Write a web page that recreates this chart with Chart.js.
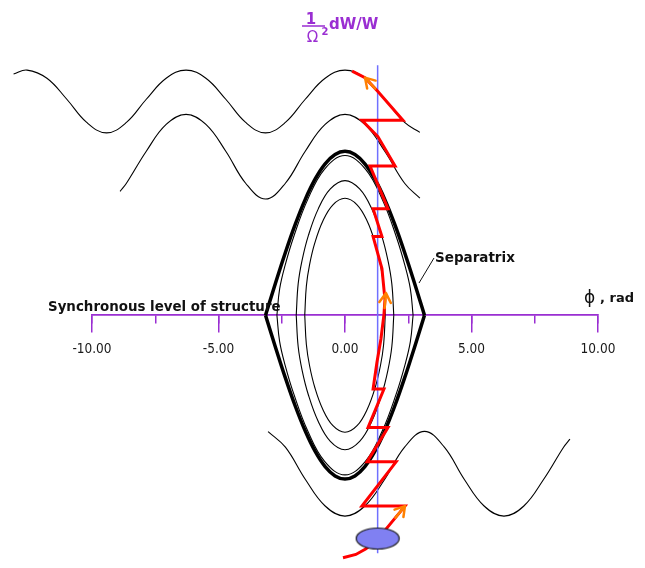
<!DOCTYPE html>
<html>
<head>
<meta charset="utf-8">
<script src="https://cdn.jsdelivr.net/npm/chart.js@4.4.1/dist/chart.umd.min.js"></script>
<style>
  html, body { margin: 0; padding: 0; background: #ffffff; }
  #wrap { position: relative; width: 645px; height: 568px; }
</style>
</head>
<body>
<div id="wrap"><canvas id="canvas"></canvas></div>
<script>
// phase axis (rad) range and ticks
var phiMin = -10;
var phiMax = 10;
var phiTicks = [-10, -5, 0, 5, 10];
var phiMinorTicks = [-10, -7.5, -5, -2.5, 0, 2.5, 5, 7.5, 10];

// outer rotating trajectory (top)
var waveTopPhi = [-13.1, -12.566, -11.781, -10.996, -10.21, -9.425, -8.639, -7.854, -7.069, -6.283, -5.498,
  -4.712, -3.927, -3.142, -2.356, -1.571, -0.785, 0, 0.785, 1.571, 2.356, 2.96];
var waveTopW = [2.945, 2.992, 2.892, 2.636, 2.353, 2.225, 2.353, 2.636, 2.892, 2.992, 2.892,
  2.636, 2.353, 2.225, 2.353, 2.636, 2.892, 2.992, 2.892, 2.636, 2.353, 2.232];

// second rotating trajectory
var waveMidPhi = [-8.89, -8.639, -7.854, -7.069, -6.283, -5.498, -4.712, -3.927, -3.142, -2.356, -1.571,
  -0.785, 0, 0.785, 1.571, 2.356, 2.96];
var waveMidW = [1.512, 1.611, 2.002, 2.329, 2.452, 2.329, 2.002, 1.611, 1.418, 1.611, 2.002,
  2.329, 2.452, 2.329, 2.002, 1.611, 1.429];

// rotating trajectory below the axis
var waveLowPhi = [-3.04, -2.356, -1.571, -0.785, 0, 0.785, 1.571, 2.356, 3.142, 3.927, 4.712,
  5.498, 6.283, 7.069, 7.854, 8.639, 8.89];
var waveLowW = [-1.421, -1.611, -2.002, -2.329, -2.452, -2.329, -2.002, -1.611, -1.418, -1.611, -2.002,
  -2.329, -2.452, -2.329, -2.002, -1.611, -1.512];

// separatrix (upper half, lower is the mirror)
var sepPhi = [-3.1416, -2.7489, -2.3562, -1.9635, -1.5708, -1.1781, -0.7854, -0.3927, 0,
  0.3927, 0.7854, 1.1781, 1.5708, 1.9635, 2.3562, 2.7489, 3.1416];
var sepW = [0, 0.3902, 0.7654, 1.1111, 1.4142, 1.6629, 1.8478, 1.9616, 2,
  1.9616, 1.8478, 1.6629, 1.4142, 1.1111, 0.7654, 0.3902, 0];

// closed orbits inside the separatrix (upper halves)
var orbit1Phi = [-1.591, -1.527, -1.400, -1.193, -0.875, -0.477, 0, 0.477, 0.875, 1.193, 1.400, 1.527, 1.591];
var orbit1W = [0, 0.357, 0.617, 0.882, 1.150, 1.348, 1.428, 1.348, 1.150, 0.882, 0.617, 0.357, 0];
var orbit2Phi = [-1.928, -1.851, -1.697, -1.446, -1.061, -0.579, 0, 0.579, 1.061, 1.446, 1.697, 1.851, 1.928];
var orbit2W = [0, 0.382, 0.669, 0.974, 1.295, 1.541, 1.643, 1.541, 1.295, 0.974, 0.669, 0.382, 0];
var orbit3Phi = [-2.691, -2.583, -2.368, -2.018, -1.480, -0.807, 0, 0.807, 1.480, 2.018, 2.368, 2.583, 2.691];
var orbit3W = [0, 0.322, 0.608, 0.967, 1.408, 1.784, 1.949, 1.784, 1.408, 0.967, 0.608, 0.322, 0];

// synchronous phase line
var syncPhi = [1.29, 1.29];
var syncW = [3.05, -2.905];

// particle trajectory (injection at the bottom, going up)
var pathPhi = [-0.08, 0.43, 0.83, 1.30, 2.37, 0.67, 2.02, 0.87, 1.70, 0.91, 1.54, 1.11, 1.26, 1.42,
  1.54, 1.58, 1.46, 1.11, 1.46, 1.11, 1.70, 0.99, 1.98, 1.30, 0.67, 2.29, 1.30, 0.79, 0.28];
var pathW = [-2.96, -2.92, -2.85, -2.73, -2.33, -2.33, -1.79, -1.79, -1.37, -1.37, -0.90, -0.90, -0.58, -0.29,
  0.01, 0.19, 0.57, 0.96, 0.96, 1.30, 1.30, 1.82, 1.82, 2.18, 2.38, 2.38, 2.73, 2.90, 2.98];

// arrows on the trajectory
var arrowTailPhi = [1.30, 1.54, 1.30];
var arrowTailW = [-2.73, 0.01, 2.73];
var arrowTipPhi = [2.37, 1.62, 0.79];
var arrowTipW = [-2.33, 0.27, 2.90];

// injected bunch
var bunchPhi = 1.29;
var bunchW = -2.726;

var purple = '#9a2ed2';

function pts(xs, ys) {
    return xs.map(function (x, i) { return {x: x, y: ys[i]}; });
}
function neg(ys) {
    return ys.map(function (v) { return -v; });
}

function curve(data, width, extra) {
    var ds = {
        data: data,
        showLine: true,
        borderColor: '#000000',
        borderWidth: width,
        pointRadius: 0,
        fill: false,
        clip: false,
        tension: 0.4
    };
    for (var k in extra) ds[k] = extra[k];
    return ds;
}

// ellipse image for the bunch
var bunchImg = document.createElement('canvas');
bunchImg.width = 46;
bunchImg.height = 24;
(function () {
    var c = bunchImg.getContext('2d');
    c.beginPath();
    c.ellipse(23, 12, 21.5, 10.5, 0, 0, Math.PI * 2);
    c.fillStyle = '#8080f2';
    c.fill();
    c.lineWidth = 1.2;
    c.strokeStyle = '#1a1a1a';
    c.stroke();
})();

var datasets = [
    {data: [{x: bunchPhi, y: bunchW}], pointStyle: bunchImg, pointRadius: 6, showLine: false, clip: false},
    curve(pts(pathPhi, pathW), 3, {borderColor: '#ff0000', tension: 0, borderJoinStyle: 'miter'}),
    curve(pts(syncPhi, syncW), 1.5, {borderColor: '#7070ff', tension: 0}),
    curve(pts(sepPhi, sepW), 3.5, {cubicInterpolationMode: 'monotone'}),
    curve(pts(sepPhi, neg(sepW)), 3.5, {cubicInterpolationMode: 'monotone'}),
    curve(pts(orbit3Phi, orbit3W), 1.1, {}),
    curve(pts(orbit3Phi, neg(orbit3W)), 1.1, {}),
    curve(pts(orbit2Phi, orbit2W), 1.1, {}),
    curve(pts(orbit2Phi, neg(orbit2W)), 1.1, {}),
    curve(pts(orbit1Phi, orbit1W), 1.1, {}),
    curve(pts(orbit1Phi, neg(orbit1W)), 1.1, {}),
    curve(pts(waveTopPhi, waveTopW), 1.1, {}),
    curve(pts(waveMidPhi, waveMidW), 1.1, {}),
    curve(pts(waveLowPhi, waveLowW), 1.1, {})
];

var arrowsPlugin = {
    id: 'arrows',
    afterDatasetsDraw: function (chart) {
        var ctx = chart.ctx, xs = chart.scales.x, ys = chart.scales.y;
        ctx.save();
        ctx.strokeStyle = '#ff8000';
        ctx.lineWidth = 2.5;
        ctx.lineCap = 'round';
        ctx.lineJoin = 'round';
        for (var i = 0; i < arrowTipPhi.length; i++) {
            var x1 = xs.getPixelForValue(arrowTailPhi[i]), y1 = ys.getPixelForValue(arrowTailW[i]);
            var x2 = xs.getPixelForValue(arrowTipPhi[i]), y2 = ys.getPixelForValue(arrowTipW[i]);
            var a = Math.atan2(y2 - y1, x2 - x1);
            ctx.beginPath();
            ctx.moveTo(x2 - 15 * Math.cos(a), y2 - 15 * Math.sin(a));
            ctx.lineTo(x2, y2);
            ctx.moveTo(x2 - 11 * Math.cos(a - 0.55), y2 - 11 * Math.sin(a - 0.55));
            ctx.lineTo(x2, y2);
            ctx.lineTo(x2 - 11 * Math.cos(a + 0.55), y2 - 11 * Math.sin(a + 0.55));
            ctx.stroke();
        }
        ctx.restore();
    }
};

var textPlugin = {
    id: 'texts',
    afterDraw: function (chart) {
        var ctx = chart.ctx, ys = chart.scales.y;
        var y0 = ys.getPixelForValue(0);
        ctx.save();
        // W axis title: (1/Omega^2) dW/W
        ctx.fillStyle = purple;
        ctx.strokeStyle = purple;
        ctx.textBaseline = 'alphabetic';
        ctx.textAlign = 'center';
        ctx.font = 'bold 15px "DejaVu Sans"';
        ctx.fillText('1', 311, 24);
        ctx.lineWidth = 1.5;
        ctx.beginPath();
        ctx.moveTo(302, 26);
        ctx.lineTo(325, 26);
        ctx.stroke();
        ctx.font = '15px "DejaVu Sans"';
        ctx.fillText('\u03A9', 312.5, 42);
        ctx.font = 'bold 10px "DejaVu Sans"';
        ctx.fillText('2', 325, 35);
        ctx.textAlign = 'left';
        ctx.font = 'bold 15px "DejaVu Sans"';
        ctx.fillText('dW/W', 329, 29);

        // phase axis title
        ctx.fillStyle = '#111111';
        ctx.font = '17px "DejaVu Sans"';
        ctx.fillText('\u03D5', 584, y0 - 12);
        ctx.font = 'bold 13px "DejaVu Sans"';
        ctx.fillText(', rad', 600, y0 - 13);

        ctx.font = 'bold 13.4px "DejaVu Sans"';
        ctx.fillText('Synchronous level of structure', 48, y0 - 4);

        ctx.font = 'bold 13.5px "DejaVu Sans"';
        ctx.fillText('Separatrix', 435, 262);
        ctx.strokeStyle = '#111111';
        ctx.lineWidth = 1;
        ctx.beginPath();
        ctx.moveTo(434, 258);
        ctx.lineTo(419, 283);
        ctx.stroke();
        ctx.restore();
    }
};

// range set after the data limits, so that curves running past the axis ends are kept whole
function fixPhiRange(scale) {
    scale.min = phiMin;
    scale.max = phiMax;
}

window.onload = function () {
    var ctx = document.getElementById('canvas').getContext('2d');
    window.myChart = new Chart(ctx, {
        type: 'scatter',
        data: {datasets: datasets},
        options: {
            responsive: true,
            maintainAspectRatio: false,
            animation: false,
            devicePixelRatio: 1,
            layout: {padding: {left: 92, right: 47, top: 0, bottom: 0}},
            plugins: {legend: {display: false}, tooltip: {enabled: false}},
            events: [],
            scales: {
                x: {
                    type: 'linear',
                    bounds: 'data',
                    position: {y: 0},
                    afterDataLimits: fixPhiRange,
                    afterBuildTicks: function (scale) {
                        scale.ticks = phiTicks.map(function (v) { return {value: v}; });
                    },
                    ticks: {
                        autoSkip: false,
                        maxRotation: 0,
                        padding: 9,
                        color: '#1a1a1a',
                        font: {family: '"DejaVu Sans Condensed", "DejaVu Sans", sans-serif', size: 13.5},
                        callback: function (v) { return Number(v).toFixed(2); }
                    },
                    grid: {drawOnChartArea: false, tickLength: 17, color: purple, lineWidth: 1.5},
                    border: {color: purple, width: 1.5}
                },
                xMinor: {
                    axis: 'x',
                    type: 'linear',
                    bounds: 'data',
                    position: {y: 0},
                    afterDataLimits: fixPhiRange,
                    afterBuildTicks: function (scale) {
                        scale.ticks = phiMinorTicks.map(function (v) { return {value: v}; });
                    },
                    ticks: {display: false},
                    grid: {drawOnChartArea: false, tickLength: 8, color: purple, lineWidth: 1.5},
                    border: {color: purple, width: 1.5}
                },
                y: {
                    type: 'linear',
                    display: false,
                    min: -3.0,
                    max: 3.762
                }
            }
        },
        plugins: [arrowsPlugin, textPlugin]
    });
};
</script>
</body>
</html>
